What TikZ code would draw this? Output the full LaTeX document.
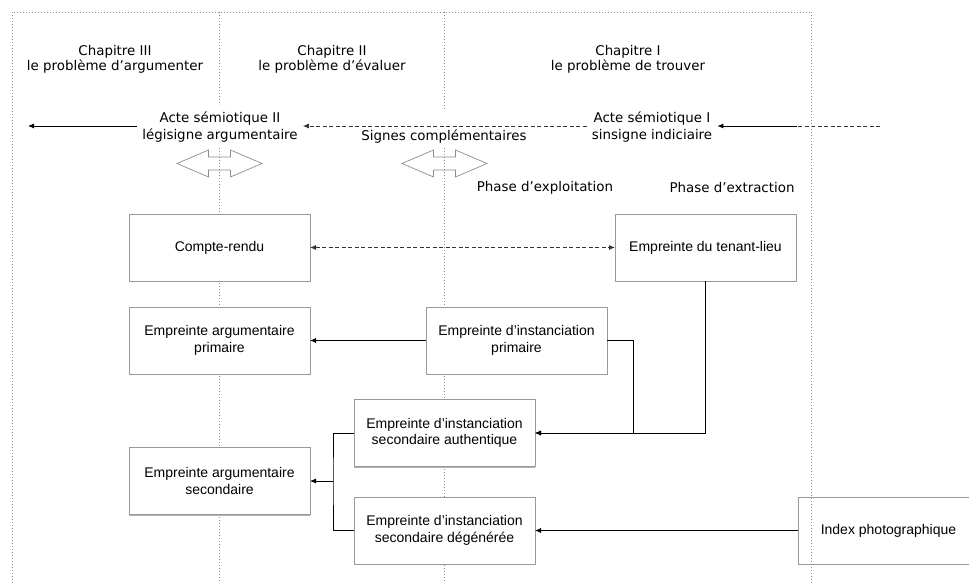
\documentclass[tikz,border=0pt]{standalone}
\usepackage{fontspec}
\setmainfont{Liberation Sans}
\newfontfamily\labelfont{DejaVu Sans}
\usetikzlibrary{arrows.meta,shadows}

\begin{document}
\begin{tikzpicture}[x=1pt,y=-1pt,
  frame/.style={draw=black!45, line width=0.6pt, dash pattern=on 1pt off 2pt},
  box/.style={draw=black!40, fill=white, line width=0.8pt,
    minimum width=181pt, minimum height=67pt, inner sep=0pt, outer sep=0pt,
    align=center, font=\fontsize{14}{16.5}\selectfont,
    drop shadow={shadow xshift=0pt, shadow yshift=-1.2pt, fill=black!30, opacity=1}},
  chap/.style={font=\labelfont\fontsize{13.4}{15}\selectfont, align=center, inner sep=0pt},
  acte/.style={font=\labelfont\fontsize{13.4}{17.5}\selectfont, align=center, inner sep=5pt},
  conn/.style={line width=0.8pt, -{Latex[length=6pt,width=5pt]}},
  dconn/.style={conn, draw=black!80, dash pattern=on 4pt off 2.5pt},
  biarrow/.pic={\draw[black!45, line width=0.7pt]
    (-42.5,0) -- (-11,-13.5) -- (-11,-6.5) -- (11,-6.5) -- (11,-13.5) -- (42.5,0)
    -- (11,13.5) -- (11,6.5) -- (-11,6.5) -- (-11,13.5) -- cycle;}
]
\useasboundingbox (0,0) rectangle (969,583);

% chapter frame and column dividers
\draw[frame] (12,583) -- (12,12) -- (811,12);
\draw[frame] (219,12) -- (219,105);
\draw[frame] (219,148) -- (219,583);
\draw[frame] (444,12) -- (444,110);
\draw[frame] (444,148) -- (444,583);

% chapter headings
\node[chap] (ch3) at (115,59) {Chapitre III\\le problème d’argumenter};
\node[chap] (ch2) at (332,59) {Chapitre II\\le problème d’évaluer};
\node[chap] (ch1) at (628,59) {Chapitre I\\le problème de trouver};

% semiotic acts
\node[acte] (a2) at (220,127) {Acte sémiotique II\\légisigne argumentaire};
\node[acte] (a1) at (652,127) {Acte sémiotique I\\sinsigne indiciaire};
\node[chap] (sc) at (444,137) {Signes complémentaires};
\coordinate (lend) at (28,126);
\coordinate (rjoin) at (797,126);
\coordinate (rend) at (880,126);
\draw[conn] (a2.west |- lend) -- (lend);
\draw[dconn] (a1.west |- lend) -- (a2.east |- lend);
\draw[black!80, line width=0.8pt, dash pattern=on 4pt off 2.5pt] (rend) -- (rjoin);
\draw[conn] (rjoin) -- (a1.east |- rjoin);

% exchange arrows
\pic at (219.5,163.5) {biarrow};
\pic at (444.5,163.5) {biarrow};

% phases
\node[chap] (pe) at (545,188) {Phase d’exploitation};
\node[chap] (px) at (732,188) {Phase d’extraction};

% imprints
\node[box] (cr) at (219.5,247.5) {Compte-rendu};
\node[box] (tl) at (705.5,247.5) {Empreinte du tenant-lieu};
\node[box] (ap) at (219.5,340.5) {Empreinte argumentaire\\primaire};
\node[box] (ip) at (516.5,340.5) {Empreinte d’instanciation\\primaire};
\node[box] (ia) at (444.5,433) {Empreinte d’instanciation\\secondaire authentique};
\node[box] (as) at (219.5,481) {Empreinte argumentaire\\secondaire};
\node[box] (id) at (444.5,530.5) {Empreinte d’instanciation\\secondaire dégénérée};
\node[box] (ix) at (888.5,530.5) {Index photographique};

% right edge of the frame, over the index box
\draw[frame] (811,12) -- (811,583);

% connectors
\draw[dconn, {Latex[length=6pt,width=5pt]}-{Latex[length=6pt,width=5pt]}] (cr) -- (tl);
\draw[conn] (ip) -- (ap);
\draw[conn] (ip.east) -- ++(26,0) |- (ia.east);
\draw[conn] (tl.south) |- (ia.east);
\coordinate (j) at (333,481);
\draw[line width=0.8pt] (ia.west) -| (j) |- (id.west);
\draw[conn] (j) -- (as.east);
\draw[conn] (ix) -- (id);
\end{tikzpicture}
\end{document}
